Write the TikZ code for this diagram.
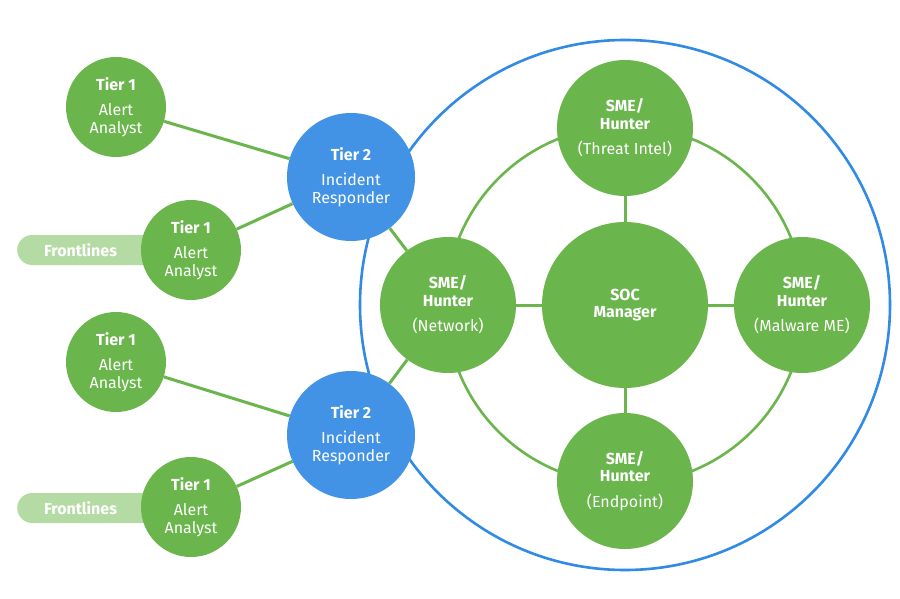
\documentclass[tikz,border=0pt]{standalone}
\usepackage{fontspec}
\setmainfont{Fira Sans}
\usetikzlibrary{backgrounds}
\definecolor{grn}{RGB}{106,181,76}
\definecolor{blu}{RGB}{66,147,230}
\definecolor{ringblu}{RGB}{48,138,230}
\definecolor{pillc}{RGB}{181,219,164}
\begin{document}
\begin{tikzpicture}[x=1pt,y=-1pt,
  base/.style={circle, inner sep=0pt, text=white, align=center, font=\fontsize{16}{17.5}\selectfont},
  tierone/.style={base, fill=grn, minimum size=100pt},
  tiertwo/.style={base, fill=blu, minimum size=128pt},
  sme/.style={base, fill=grn, minimum size=136pt},
  soc/.style={base, fill=grn, minimum size=166pt},
  conn/.style={draw=grn, line width=3pt},
  pill/.style={fill=pillc, rounded corners=15pt, minimum height=30pt, text width=174pt, inner xsep=0pt, inner ysep=0pt, align=left, text=white, font=\fontsize{16}{17}\selectfont\bfseries, anchor=west}
]
\useasboundingbox (0,0) rectangle (900,599);

% nodes
\node[soc] (soc) at (625,305) {\textbf{SOC}\\\textbf{Manager}};
\node[sme] (threat) at (625,128) {\textbf{SME/}\\\textbf{Hunter}\\[8pt](Threat Intel)};
\node[sme] (net) at (448,305) {\textbf{SME/}\\\textbf{Hunter}\\[8pt](Network)};
\node[sme] (mal) at (802,305) {\textbf{SME/}\\\textbf{Hunter}\\[8pt](Malware ME)};
\node[sme] (endp) at (625,481) {\textbf{SME/}\\\textbf{Hunter}\\[8pt](Endpoint)};

\node[tiertwo] (t2a) at (351,177) {\textbf{Tier 2}\\[8pt]Incident\\Responder};
\node[tiertwo] (t2b) at (351,435) {\textbf{Tier 2}\\[8pt]Incident\\Responder};

\node[tierone] (t1a) at (116,107) {\textbf{Tier 1}\\[8pt]Alert\\Analyst};
\node[tierone] (t1b) at (191,250) {\textbf{Tier 1}\\[8pt]Alert\\Analyst};
\node[tierone] (t1c) at (116,362) {\textbf{Tier 1}\\[8pt]Alert\\Analyst};
\node[tierone] (t1d) at (191,507) {\textbf{Tier 1}\\[8pt]Alert\\Analyst};

\begin{pgfonlayer}{background}
  \fill[white] (0,0) rectangle (900,599);
  \draw[ringblu, line width=2.6pt] (soc.center) circle[radius=265];
  \draw[grn, line width=2.6pt] (soc.center) circle[radius=179];
  \node[pill] (fl1) at (17,250) {\hspace*{27pt}Frontlines};
  \node[pill] (fl2) at (17,508) {\hspace*{27pt}Frontlines};
\end{pgfonlayer}

% connectors
\draw[conn] (t1a) -- (t2a);
\draw[conn] (t1b) -- (t2a);
\draw[conn] (t1c) -- (t2b);
\draw[conn] (t1d) -- (t2b);
\draw[conn] (t2a) -- (net);
\draw[conn] (t2b) -- (net);
\draw[conn] (net) -- (soc);
\draw[conn] (threat) -- (soc);
\draw[conn] (mal) -- (soc);
\draw[conn] (endp) -- (soc);
\end{tikzpicture}
\end{document}
